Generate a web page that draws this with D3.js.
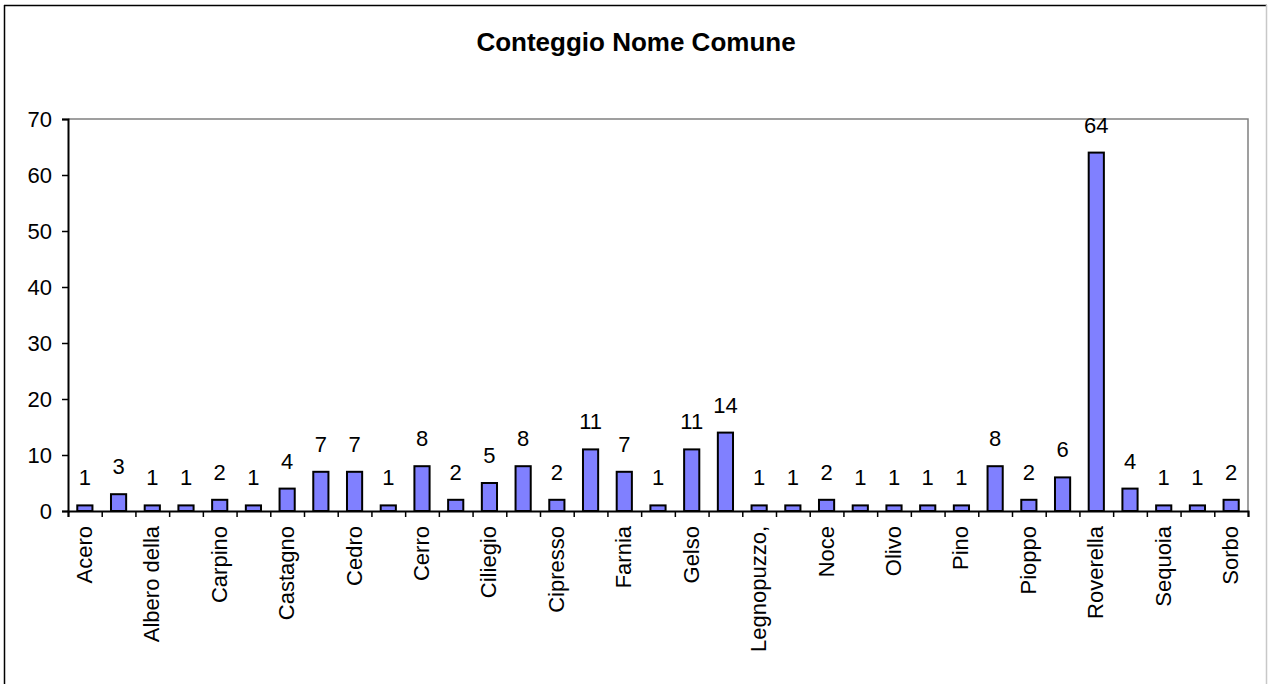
<!DOCTYPE html>
<html><head><meta charset="utf-8">
<script src="https://cdn.jsdelivr.net/npm/d3@7"></script>
<style>body{margin:0;background:#fff}svg{display:block}text{font-family:"Liberation Sans",Arial,sans-serif}</style>
</head><body><svg id="c" width="1268" height="684"></svg>
<script>
const categories = ["Acero","Ailanto","Albero della","Betulla","Carpino","Carrubo","Castagno","Catalpa","Cedro","Cercis","Cerro","Ciavardello","Ciliegio","Ciliegio selvatico","Cipresso","Faggio","Farnia","Frassino","Gelso","Leccio","Legnopuzzo,","Magnolia","Noce","Noce nero","Olivo","Olmo","Pino","Pino marittimo","Pioppo","Platano","Roverella","Salice","Sequoia","Sophora","Sorbo"];
const values = [1,3,1,1,2,1,4,7,7,1,8,2,5,8,2,11,7,1,11,14,1,1,2,1,1,1,1,8,2,6,64,4,1,1,2];
const yTicks = [0,10,20,30,40,50,60,70];
const title = "Conteggio Nome Comune";

const svg = d3.select("#c");
const L = 68, R = 1248, T = 119, B = 511;
const x = d3.scaleBand().domain(categories).range([L, R]).paddingInner(0.55).paddingOuter(0.275);
const xb = d3.scaleLinear().domain([0, categories.length]).range([L, R]);
const y = d3.scaleLinear().domain([0, 70]).range([B, T]);

// outer frame
svg.append("line").attr("x1",4.5).attr("x2",4.5).attr("y1",5).attr("y2",684).attr("stroke","#000").attr("stroke-width",1.5);
svg.append("line").attr("x1",4).attr("x2",1267).attr("y1",5.5).attr("y2",5.5).attr("stroke","#000").attr("stroke-width",1.5);
svg.append("line").attr("x1",1266.5).attr("x2",1266.5).attr("y1",5).attr("y2",684).attr("stroke","#c8c8c8").attr("stroke-width",1.5);

// title
svg.append("text").attr("x",636).attr("y",51).attr("text-anchor","middle")
  .attr("font-size",26).attr("font-weight","bold").text(title);

// plot border (top/right gray)
svg.append("path").attr("d",`M${L},${T}H${R}V${B}`).attr("fill","none").attr("stroke","#808080").attr("stroke-width",1.5);

// bars
svg.append("g").selectAll("rect").data(values).join("rect")
  .attr("x",(d,i)=>x(categories[i])).attr("width",x.bandwidth())
  .attr("y",d=>y(d)).attr("height",d=>y(0)-y(d))
  .attr("fill","#8080ff").attr("stroke","#000").attr("stroke-width",2);

// data labels
svg.append("g").selectAll("text").data(values).join("text")
  .attr("x",(d,i)=>x(categories[i])+x.bandwidth()/2).attr("y",d=>y(d)-20)
  .attr("text-anchor","middle").attr("font-size",22).text(d=>d);

// y axis
const ya = svg.append("g").attr("transform",`translate(${L},0)`)
  .call(d3.axisLeft(y).tickValues(yTicks).tickSize(6).tickPadding(10));
ya.select(".domain").attr("stroke","#000").attr("stroke-width",2);
ya.selectAll(".tick line").attr("stroke","#000").attr("stroke-width",1.5);
ya.selectAll(".tick text").attr("font-size",22).attr("fill","#000").attr("font-family","Liberation Sans, Arial, sans-serif");

// x axis
const xa = svg.append("g").attr("transform",`translate(0,${B})`)
  .call(d3.axisBottom(xb).tickValues(d3.range(categories.length+1)).tickSize(6).tickFormat(""));
xa.select(".domain").attr("stroke","#000").attr("stroke-width",2);
xa.selectAll(".tick line").attr("stroke","#000").attr("stroke-width",1.5);

// category labels (every other)
svg.append("g").selectAll("text").data(categories.filter((c,i)=>i%2===0)).join("text")
  .attr("transform",c=>`translate(${x(c)+x.bandwidth()/2+7},${B+15}) rotate(-90)`)
  .attr("text-anchor","end").attr("font-size",22).text(c=>c);
</script></body></html>
